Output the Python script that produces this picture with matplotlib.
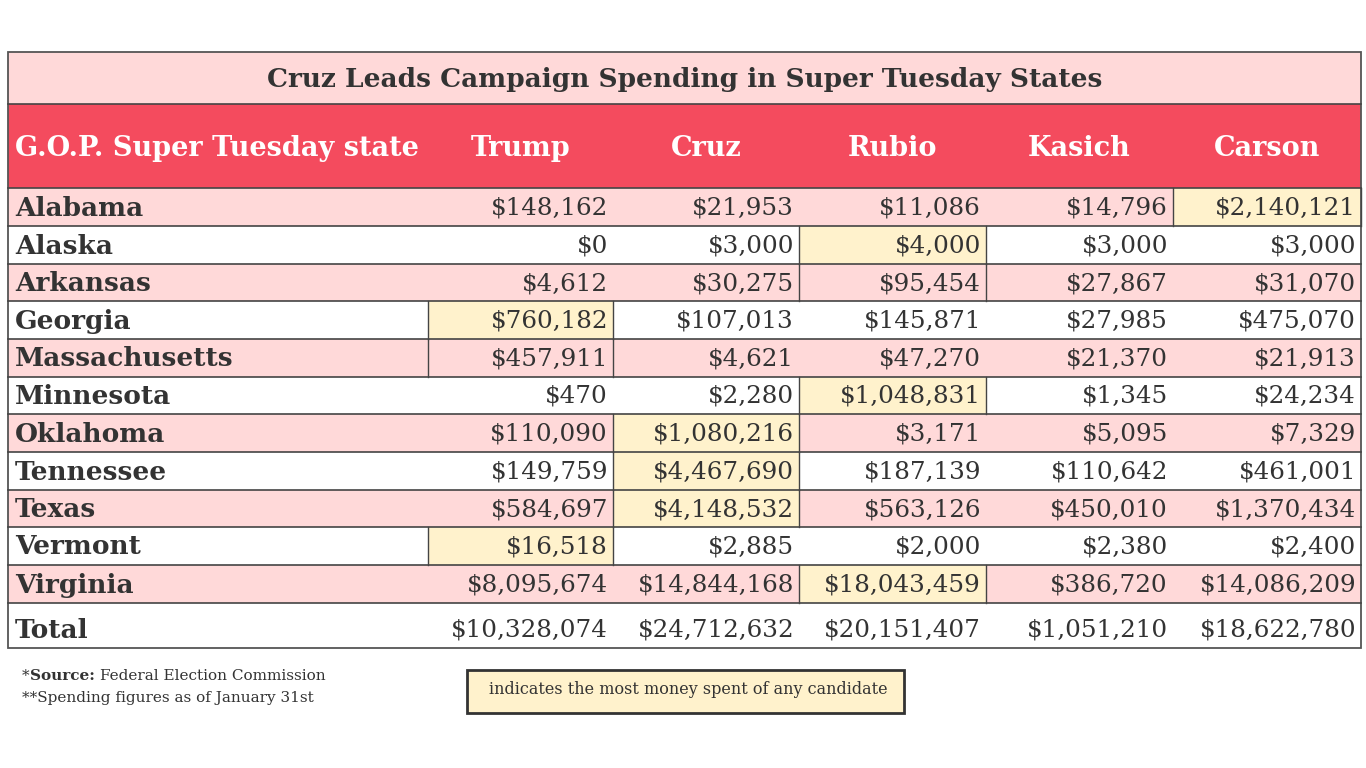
import matplotlib
matplotlib.use("Agg")
import matplotlib.pyplot as plt
from matplotlib.patches import Rectangle

title = "Cruz Leads Campaign Spending in Super Tuesday States"
header_first = "G.O.P. Super Tuesday state"
candidates = ["Trump", "Cruz", "Rubio", "Kasich", "Carson"]
states = ["Alabama", "Alaska", "Arkansas", "Georgia", "Massachusetts", "Minnesota",
          "Oklahoma", "Tennessee", "Texas", "Vermont", "Virginia"]
trump = [148162, 0, 4612, 760182, 457911, 470, 110090, 149759, 584697, 16518, 8095674]
cruz = [21953, 3000, 30275, 107013, 4621, 2280, 1080216, 4467690, 4148532, 2885, 14844168]
rubio = [11086, 4000, 95454, 145871, 47270, 1048831, 3171, 187139, 563126, 2000, 18043459]
kasich = [14796, 3000, 27867, 27985, 21370, 1345, 5095, 110642, 450010, 2380, 386720]
carson = [2140121, 3000, 31070, 475070, 21913, 24234, 7329, 461001, 1370434, 2400, 14086209]
totals = [10328074, 24712632, 20151407, 1051210, 18622780]
# highlighted cells (row, column index among candidates)
highlights = [(0, 4), (1, 2), (3, 0), (5, 2), (6, 1), (7, 1), (8, 1), (9, 0), (10, 2)]
# extra cells with vertical borders but no highlight
bordered = [(2, 2), (4, 0)]
source_note = "Federal Election Commission"
date_note = "**Spending figures as of January 31st"
legend_text = "indicates the most money spent of any candidate"

values = [trump, cruz, rubio, kasich, carson]

W, H = 1366, 768
fig = plt.figure(figsize=(W / 100, H / 100), dpi=100)
ax = fig.add_axes([0, 0, 1, 1])
ax.set_xlim(0, W)
ax.set_ylim(H, 0)
ax.axis("off")

PINK = "#FFD9D9"
RED = "#F44B5E"
YEL = "#FFF2CC"
TXT = "#333333"
LINE = "#444444"
SERIF = "DejaVu Serif"

x_edges = [8, 428, 613, 799, 986, 1173, 1361]
y_title = (52, 104)
y_head = (104, 188)
row_edges = [188, 226, 264, 301, 339, 377, 414, 452, 490, 527, 565, 603]
y_total = (603, 648)

# title row
ax.add_patch(Rectangle((x_edges[0], y_title[0]), x_edges[-1] - x_edges[0], y_title[1] - y_title[0],
                       facecolor=PINK, edgecolor="none"))
ax.text((x_edges[0] + x_edges[-1]) / 2, (y_title[0] + y_title[1]) / 2 + 1, title,
        family=SERIF, weight="bold", fontsize=19, color=TXT, ha="center", va="center")
# header row
ax.add_patch(Rectangle((x_edges[0], y_head[0]), x_edges[-1] - x_edges[0], y_head[1] - y_head[0],
                       facecolor=RED, edgecolor="none"))
hy = (y_head[0] + y_head[1]) / 2 + 2
ax.text(x_edges[0] + 7, hy, header_first, family=SERIF, weight="bold", fontsize=19.5,
        color="white", ha="left", va="center")
for i, c in enumerate(candidates):
    ax.text((x_edges[i + 1] + x_edges[i + 2]) / 2, hy, c, family=SERIF, weight="bold",
            fontsize=19.5, color="white", ha="center", va="center")

def fmt(v):
    return "${:,}".format(v)

for r, st in enumerate(states):
    y0, y1 = row_edges[r], row_edges[r + 1]
    bg = PINK if r % 2 == 0 else "white"
    ax.add_patch(Rectangle((x_edges[0], y0), x_edges[-1] - x_edges[0], y1 - y0,
                           facecolor=bg, edgecolor="none"))
    yc = (y0 + y1) / 2 + 1
    ax.text(x_edges[0] + 7, yc, st, family=SERIF, weight="bold", fontsize=19,
            color=TXT, ha="left", va="center")
    for c in range(5):
        xa, xb = x_edges[c + 1], x_edges[c + 2]
        if (r, c) in highlights:
            ax.add_patch(Rectangle((xa, y0), xb - xa, y1 - y0, facecolor=YEL, edgecolor="none"))
        if (r, c) in highlights or (r, c) in bordered:
            ax.plot([xa, xa], [y0, y1], color=LINE, lw=1.0)
            ax.plot([xb, xb], [y0, y1], color=LINE, lw=1.0)
        ax.text(xb - 5, yc, fmt(values[c][r]), family=SERIF, fontsize=17.7,
                color=TXT, ha="right", va="center")

# horizontal lines
for y in [y_title[1], y_head[1]] + row_edges[1:]:
    ax.plot([x_edges[0], x_edges[-1]], [y, y], color=LINE, lw=1.2)

# total row
ty = (y_total[0] + y_total[1]) / 2 + 5
ax.text(x_edges[0] + 7, ty, "Total", family=SERIF, weight="bold", fontsize=19,
        color=TXT, ha="left", va="center")
for c in range(5):
    ax.text(x_edges[c + 2] - 5, ty, fmt(totals[c]), family=SERIF, fontsize=17.7,
            color=TXT, ha="right", va="center")

# outer border
ax.add_patch(Rectangle((x_edges[0], y_title[0]), x_edges[-1] - x_edges[0], y_total[1] - y_title[0],
                       facecolor="none", edgecolor="#555555", lw=1.3))

# footnotes
fig.canvas.draw()
renderer = fig.canvas.get_renderer()
t0 = ax.text(22, 676, "*", family=SERIF, fontsize=11, color=TXT, ha="left", va="center")
bb = t0.get_window_extent(renderer)
t1 = ax.text(bb.x1, 676, "Source:", family=SERIF, fontsize=11, weight="bold", color=TXT,
             ha="left", va="center")
bb1 = t1.get_window_extent(renderer)
ax.text(bb1.x1 + 5, 676, source_note, family=SERIF, fontsize=11, color=TXT,
        ha="left", va="center")
ax.text(22, 698, date_note, family=SERIF, fontsize=11, color=TXT, ha="left", va="center")

# legend box
ax.add_patch(Rectangle((467, 670), 437, 43, facecolor=YEL, edgecolor="#333333", lw=2))
ax.text(688, 690, legend_text, family=SERIF, fontsize=11.5, color=TXT, ha="center", va="center")

fig.savefig("out.png", dpi=100, facecolor="white")
